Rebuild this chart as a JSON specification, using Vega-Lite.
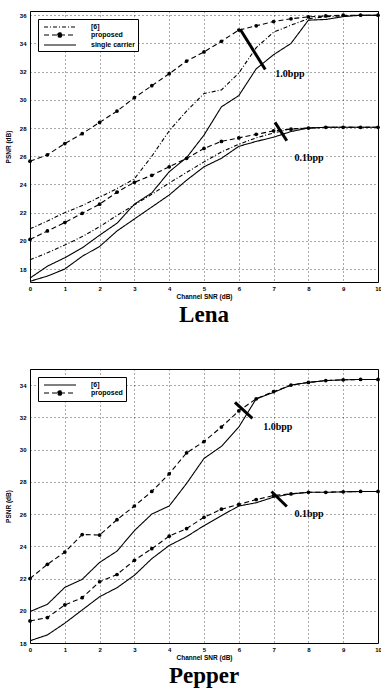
{
  "$schema": "https://vega.github.io/schema/vega-lite/v6.json",
  "padding": {"top": 10, "left": 4, "right": 2, "bottom": 0},
  "background": "white",
  "spacing": 41,
  "config": {
    "view": {"stroke": "black", "strokeWidth": 1},
    "axis": {
      "grid": true, "gridDash": [1, 3], "gridColor": "#000", "gridWidth": 0.8, "gridOpacity": 0.85,
      "domain": false, "ticks": false, "labelOverlap": false, "tickCount": 30, "format": "d",
      "labelFont": "Liberation Sans", "labelFontWeight": "bold", "labelFontSize": 6, "labelColor": "#000",
      "titleFont": "Liberation Sans", "titleFontWeight": "bold", "titleFontSize": 6.5, "titleColor": "#000"
    },
    "axisX": {"labelPadding": 3, "titlePadding": 2, "labelFlush": false},
    "axisY": {"labelPadding": 4, "titlePadding": 2, "minExtent": 17, "maxExtent": 17},
    "title": {"font": "Liberation Serif", "fontSize": 23, "fontWeight": "bold", "color": "#000", "orient": "bottom", "anchor": "middle", "offset": 4},
    "legend": {
      "orient": "top-left", "offset": 8, "strokeColor": "#000", "fillColor": "white", "padding": 3,
      "labelFont": "Liberation Sans", "labelFontWeight": "bold", "labelFontSize": 7, "labelColor": "#000",
      "symbolType": "M-4,0H4", "symbolSize": 64, "symbolOffset": 14, "labelOffset": 26,
      "symbolStrokeColor": "#000", "symbolStrokeWidth": 1.2, "rowPadding": 0
    }
  },
  "datasets": {
    "lena": [
      {"snr": 0, "psnr": 25.65, "method": "proposed", "rate": "1.0bpp"},
      {"snr": 0.5, "psnr": 26.1, "method": "proposed", "rate": "1.0bpp"},
      {"snr": 1, "psnr": 26.9, "method": "proposed", "rate": "1.0bpp"},
      {"snr": 1.5, "psnr": 27.6, "method": "proposed", "rate": "1.0bpp"},
      {"snr": 2, "psnr": 28.4, "method": "proposed", "rate": "1.0bpp"},
      {"snr": 2.5, "psnr": 29.2, "method": "proposed", "rate": "1.0bpp"},
      {"snr": 3, "psnr": 30.15, "method": "proposed", "rate": "1.0bpp"},
      {"snr": 3.5, "psnr": 31.0, "method": "proposed", "rate": "1.0bpp"},
      {"snr": 4, "psnr": 31.85, "method": "proposed", "rate": "1.0bpp"},
      {"snr": 4.5, "psnr": 32.75, "method": "proposed", "rate": "1.0bpp"},
      {"snr": 5, "psnr": 33.4, "method": "proposed", "rate": "1.0bpp"},
      {"snr": 5.5, "psnr": 34.15, "method": "proposed", "rate": "1.0bpp"},
      {"snr": 6, "psnr": 34.95, "method": "proposed", "rate": "1.0bpp"},
      {"snr": 6.5, "psnr": 35.25, "method": "proposed", "rate": "1.0bpp"},
      {"snr": 7, "psnr": 35.55, "method": "proposed", "rate": "1.0bpp"},
      {"snr": 7.5, "psnr": 35.75, "method": "proposed", "rate": "1.0bpp"},
      {"snr": 8, "psnr": 35.88, "method": "proposed", "rate": "1.0bpp"},
      {"snr": 8.5, "psnr": 35.95, "method": "proposed", "rate": "1.0bpp"},
      {"snr": 9, "psnr": 36.0, "method": "proposed", "rate": "1.0bpp"},
      {"snr": 9.5, "psnr": 36.0, "method": "proposed", "rate": "1.0bpp"},
      {"snr": 10, "psnr": 36.0, "method": "proposed", "rate": "1.0bpp"},
      {"snr": 0, "psnr": 20.1, "method": "proposed", "rate": "0.1bpp"},
      {"snr": 0.5, "psnr": 20.7, "method": "proposed", "rate": "0.1bpp"},
      {"snr": 1, "psnr": 21.3, "method": "proposed", "rate": "0.1bpp"},
      {"snr": 1.5, "psnr": 21.95, "method": "proposed", "rate": "0.1bpp"},
      {"snr": 2, "psnr": 22.6, "method": "proposed", "rate": "0.1bpp"},
      {"snr": 2.5, "psnr": 23.45, "method": "proposed", "rate": "0.1bpp"},
      {"snr": 3, "psnr": 24.15, "method": "proposed", "rate": "0.1bpp"},
      {"snr": 3.5, "psnr": 24.65, "method": "proposed", "rate": "0.1bpp"},
      {"snr": 4, "psnr": 25.25, "method": "proposed", "rate": "0.1bpp"},
      {"snr": 4.5, "psnr": 25.85, "method": "proposed", "rate": "0.1bpp"},
      {"snr": 5, "psnr": 26.55, "method": "proposed", "rate": "0.1bpp"},
      {"snr": 5.5, "psnr": 27.05, "method": "proposed", "rate": "0.1bpp"},
      {"snr": 6, "psnr": 27.3, "method": "proposed", "rate": "0.1bpp"},
      {"snr": 6.5, "psnr": 27.55, "method": "proposed", "rate": "0.1bpp"},
      {"snr": 7, "psnr": 27.8, "method": "proposed", "rate": "0.1bpp"},
      {"snr": 7.5, "psnr": 27.92, "method": "proposed", "rate": "0.1bpp"},
      {"snr": 8, "psnr": 28.0, "method": "proposed", "rate": "0.1bpp"},
      {"snr": 8.5, "psnr": 28.05, "method": "proposed", "rate": "0.1bpp"},
      {"snr": 9, "psnr": 28.05, "method": "proposed", "rate": "0.1bpp"},
      {"snr": 9.5, "psnr": 28.05, "method": "proposed", "rate": "0.1bpp"},
      {"snr": 10, "psnr": 28.05, "method": "proposed", "rate": "0.1bpp"},
      {"snr": 0, "psnr": 20.85, "method": "[6]", "rate": "1.0bpp"},
      {"snr": 0.5, "psnr": 21.4, "method": "[6]", "rate": "1.0bpp"},
      {"snr": 1, "psnr": 22.0, "method": "[6]", "rate": "1.0bpp"},
      {"snr": 1.5, "psnr": 22.5, "method": "[6]", "rate": "1.0bpp"},
      {"snr": 2, "psnr": 23.1, "method": "[6]", "rate": "1.0bpp"},
      {"snr": 2.5, "psnr": 23.7, "method": "[6]", "rate": "1.0bpp"},
      {"snr": 3, "psnr": 24.4, "method": "[6]", "rate": "1.0bpp"},
      {"snr": 3.5, "psnr": 26.0, "method": "[6]", "rate": "1.0bpp"},
      {"snr": 4, "psnr": 27.8, "method": "[6]", "rate": "1.0bpp"},
      {"snr": 4.5, "psnr": 29.2, "method": "[6]", "rate": "1.0bpp"},
      {"snr": 5, "psnr": 30.45, "method": "[6]", "rate": "1.0bpp"},
      {"snr": 5.5, "psnr": 30.7, "method": "[6]", "rate": "1.0bpp"},
      {"snr": 6, "psnr": 31.9, "method": "[6]", "rate": "1.0bpp"},
      {"snr": 6.5, "psnr": 33.7, "method": "[6]", "rate": "1.0bpp"},
      {"snr": 7, "psnr": 34.8, "method": "[6]", "rate": "1.0bpp"},
      {"snr": 7.5, "psnr": 35.3, "method": "[6]", "rate": "1.0bpp"},
      {"snr": 8, "psnr": 35.75, "method": "[6]", "rate": "1.0bpp"},
      {"snr": 8.5, "psnr": 35.9, "method": "[6]", "rate": "1.0bpp"},
      {"snr": 9, "psnr": 35.95, "method": "[6]", "rate": "1.0bpp"},
      {"snr": 9.5, "psnr": 36.0, "method": "[6]", "rate": "1.0bpp"},
      {"snr": 10, "psnr": 36.0, "method": "[6]", "rate": "1.0bpp"},
      {"snr": 0, "psnr": 18.65, "method": "[6]", "rate": "0.1bpp"},
      {"snr": 0.5, "psnr": 19.15, "method": "[6]", "rate": "0.1bpp"},
      {"snr": 1, "psnr": 19.7, "method": "[6]", "rate": "0.1bpp"},
      {"snr": 1.5, "psnr": 20.3, "method": "[6]", "rate": "0.1bpp"},
      {"snr": 2, "psnr": 21.0, "method": "[6]", "rate": "0.1bpp"},
      {"snr": 2.5, "psnr": 21.8, "method": "[6]", "rate": "0.1bpp"},
      {"snr": 3, "psnr": 22.55, "method": "[6]", "rate": "0.1bpp"},
      {"snr": 3.5, "psnr": 23.3, "method": "[6]", "rate": "0.1bpp"},
      {"snr": 4, "psnr": 24.1, "method": "[6]", "rate": "0.1bpp"},
      {"snr": 4.5, "psnr": 24.85, "method": "[6]", "rate": "0.1bpp"},
      {"snr": 5, "psnr": 25.6, "method": "[6]", "rate": "0.1bpp"},
      {"snr": 5.5, "psnr": 26.3, "method": "[6]", "rate": "0.1bpp"},
      {"snr": 6, "psnr": 26.85, "method": "[6]", "rate": "0.1bpp"},
      {"snr": 6.5, "psnr": 27.3, "method": "[6]", "rate": "0.1bpp"},
      {"snr": 7, "psnr": 27.65, "method": "[6]", "rate": "0.1bpp"},
      {"snr": 7.5, "psnr": 27.95, "method": "[6]", "rate": "0.1bpp"},
      {"snr": 8, "psnr": 28.0, "method": "[6]", "rate": "0.1bpp"},
      {"snr": 8.5, "psnr": 28.05, "method": "[6]", "rate": "0.1bpp"},
      {"snr": 9, "psnr": 28.05, "method": "[6]", "rate": "0.1bpp"},
      {"snr": 9.5, "psnr": 28.05, "method": "[6]", "rate": "0.1bpp"},
      {"snr": 10, "psnr": 28.05, "method": "[6]", "rate": "0.1bpp"},
      {"snr": 0, "psnr": 17.36, "method": "single carrier", "rate": "1.0bpp"},
      {"snr": 0.5, "psnr": 18.2, "method": "single carrier", "rate": "1.0bpp"},
      {"snr": 1, "psnr": 18.8, "method": "single carrier", "rate": "1.0bpp"},
      {"snr": 1.5, "psnr": 19.5, "method": "single carrier", "rate": "1.0bpp"},
      {"snr": 2, "psnr": 20.4, "method": "single carrier", "rate": "1.0bpp"},
      {"snr": 2.5, "psnr": 21.25, "method": "single carrier", "rate": "1.0bpp"},
      {"snr": 3, "psnr": 22.6, "method": "single carrier", "rate": "1.0bpp"},
      {"snr": 3.5, "psnr": 23.4, "method": "single carrier", "rate": "1.0bpp"},
      {"snr": 4, "psnr": 24.9, "method": "single carrier", "rate": "1.0bpp"},
      {"snr": 4.5, "psnr": 25.9, "method": "single carrier", "rate": "1.0bpp"},
      {"snr": 5, "psnr": 27.5, "method": "single carrier", "rate": "1.0bpp"},
      {"snr": 5.5, "psnr": 29.5, "method": "single carrier", "rate": "1.0bpp"},
      {"snr": 6, "psnr": 30.3, "method": "single carrier", "rate": "1.0bpp"},
      {"snr": 6.5, "psnr": 32.2, "method": "single carrier", "rate": "1.0bpp"},
      {"snr": 7, "psnr": 33.2, "method": "single carrier", "rate": "1.0bpp"},
      {"snr": 7.5, "psnr": 34.0, "method": "single carrier", "rate": "1.0bpp"},
      {"snr": 8, "psnr": 35.65, "method": "single carrier", "rate": "1.0bpp"},
      {"snr": 8.5, "psnr": 35.7, "method": "single carrier", "rate": "1.0bpp"},
      {"snr": 9, "psnr": 35.9, "method": "single carrier", "rate": "1.0bpp"},
      {"snr": 9.5, "psnr": 36.0, "method": "single carrier", "rate": "1.0bpp"},
      {"snr": 10, "psnr": 36.0, "method": "single carrier", "rate": "1.0bpp"},
      {"snr": 0, "psnr": 17.13, "method": "single carrier", "rate": "0.1bpp"},
      {"snr": 0.5, "psnr": 17.5, "method": "single carrier", "rate": "0.1bpp"},
      {"snr": 1, "psnr": 18.0, "method": "single carrier", "rate": "0.1bpp"},
      {"snr": 1.5, "psnr": 18.9, "method": "single carrier", "rate": "0.1bpp"},
      {"snr": 2, "psnr": 19.6, "method": "single carrier", "rate": "0.1bpp"},
      {"snr": 2.5, "psnr": 20.7, "method": "single carrier", "rate": "0.1bpp"},
      {"snr": 3, "psnr": 21.55, "method": "single carrier", "rate": "0.1bpp"},
      {"snr": 3.5, "psnr": 22.4, "method": "single carrier", "rate": "0.1bpp"},
      {"snr": 4, "psnr": 23.25, "method": "single carrier", "rate": "0.1bpp"},
      {"snr": 4.5, "psnr": 24.3, "method": "single carrier", "rate": "0.1bpp"},
      {"snr": 5, "psnr": 25.25, "method": "single carrier", "rate": "0.1bpp"},
      {"snr": 5.5, "psnr": 25.85, "method": "single carrier", "rate": "0.1bpp"},
      {"snr": 6, "psnr": 26.7, "method": "single carrier", "rate": "0.1bpp"},
      {"snr": 6.5, "psnr": 27.05, "method": "single carrier", "rate": "0.1bpp"},
      {"snr": 7, "psnr": 27.35, "method": "single carrier", "rate": "0.1bpp"},
      {"snr": 7.5, "psnr": 27.75, "method": "single carrier", "rate": "0.1bpp"},
      {"snr": 8, "psnr": 28.0, "method": "single carrier", "rate": "0.1bpp"},
      {"snr": 8.5, "psnr": 28.05, "method": "single carrier", "rate": "0.1bpp"},
      {"snr": 9, "psnr": 28.05, "method": "single carrier", "rate": "0.1bpp"},
      {"snr": 9.5, "psnr": 28.05, "method": "single carrier", "rate": "0.1bpp"},
      {"snr": 10, "psnr": 28.05, "method": "single carrier", "rate": "0.1bpp"}
    ],
    "pepper": [
      {"snr": 0, "psnr": 22.0, "method": "proposed", "rate": "1.0bpp"},
      {"snr": 0.5, "psnr": 22.88, "method": "proposed", "rate": "1.0bpp"},
      {"snr": 1, "psnr": 23.64, "method": "proposed", "rate": "1.0bpp"},
      {"snr": 1.5, "psnr": 24.73, "method": "proposed", "rate": "1.0bpp"},
      {"snr": 2, "psnr": 24.7, "method": "proposed", "rate": "1.0bpp"},
      {"snr": 2.5, "psnr": 25.65, "method": "proposed", "rate": "1.0bpp"},
      {"snr": 3, "psnr": 26.5, "method": "proposed", "rate": "1.0bpp"},
      {"snr": 3.5, "psnr": 27.4, "method": "proposed", "rate": "1.0bpp"},
      {"snr": 4, "psnr": 28.5, "method": "proposed", "rate": "1.0bpp"},
      {"snr": 4.5, "psnr": 29.8, "method": "proposed", "rate": "1.0bpp"},
      {"snr": 5, "psnr": 30.5, "method": "proposed", "rate": "1.0bpp"},
      {"snr": 5.5, "psnr": 31.4, "method": "proposed", "rate": "1.0bpp"},
      {"snr": 6, "psnr": 32.4, "method": "proposed", "rate": "1.0bpp"},
      {"snr": 6.5, "psnr": 33.15, "method": "proposed", "rate": "1.0bpp"},
      {"snr": 7, "psnr": 33.6, "method": "proposed", "rate": "1.0bpp"},
      {"snr": 7.5, "psnr": 34.0, "method": "proposed", "rate": "1.0bpp"},
      {"snr": 8, "psnr": 34.17, "method": "proposed", "rate": "1.0bpp"},
      {"snr": 8.5, "psnr": 34.28, "method": "proposed", "rate": "1.0bpp"},
      {"snr": 9, "psnr": 34.33, "method": "proposed", "rate": "1.0bpp"},
      {"snr": 9.5, "psnr": 34.35, "method": "proposed", "rate": "1.0bpp"},
      {"snr": 10, "psnr": 34.35, "method": "proposed", "rate": "1.0bpp"},
      {"snr": 0, "psnr": 19.37, "method": "proposed", "rate": "0.1bpp"},
      {"snr": 0.5, "psnr": 19.58, "method": "proposed", "rate": "0.1bpp"},
      {"snr": 1, "psnr": 20.36, "method": "proposed", "rate": "0.1bpp"},
      {"snr": 1.5, "psnr": 20.81, "method": "proposed", "rate": "0.1bpp"},
      {"snr": 2, "psnr": 21.8, "method": "proposed", "rate": "0.1bpp"},
      {"snr": 2.5, "psnr": 22.25, "method": "proposed", "rate": "0.1bpp"},
      {"snr": 3, "psnr": 23.13, "method": "proposed", "rate": "0.1bpp"},
      {"snr": 3.5, "psnr": 23.85, "method": "proposed", "rate": "0.1bpp"},
      {"snr": 4, "psnr": 24.63, "method": "proposed", "rate": "0.1bpp"},
      {"snr": 4.5, "psnr": 25.1, "method": "proposed", "rate": "0.1bpp"},
      {"snr": 5, "psnr": 25.8, "method": "proposed", "rate": "0.1bpp"},
      {"snr": 5.5, "psnr": 26.3, "method": "proposed", "rate": "0.1bpp"},
      {"snr": 6, "psnr": 26.6, "method": "proposed", "rate": "0.1bpp"},
      {"snr": 6.5, "psnr": 26.9, "method": "proposed", "rate": "0.1bpp"},
      {"snr": 7, "psnr": 27.15, "method": "proposed", "rate": "0.1bpp"},
      {"snr": 7.5, "psnr": 27.25, "method": "proposed", "rate": "0.1bpp"},
      {"snr": 8, "psnr": 27.35, "method": "proposed", "rate": "0.1bpp"},
      {"snr": 8.5, "psnr": 27.35, "method": "proposed", "rate": "0.1bpp"},
      {"snr": 9, "psnr": 27.38, "method": "proposed", "rate": "0.1bpp"},
      {"snr": 9.5, "psnr": 27.4, "method": "proposed", "rate": "0.1bpp"},
      {"snr": 10, "psnr": 27.4, "method": "proposed", "rate": "0.1bpp"},
      {"snr": 0, "psnr": 19.95, "method": "[6]", "rate": "1.0bpp"},
      {"snr": 0.5, "psnr": 20.4, "method": "[6]", "rate": "1.0bpp"},
      {"snr": 1, "psnr": 21.45, "method": "[6]", "rate": "1.0bpp"},
      {"snr": 1.5, "psnr": 21.95, "method": "[6]", "rate": "1.0bpp"},
      {"snr": 2, "psnr": 23.0, "method": "[6]", "rate": "1.0bpp"},
      {"snr": 2.5, "psnr": 23.7, "method": "[6]", "rate": "1.0bpp"},
      {"snr": 3, "psnr": 24.97, "method": "[6]", "rate": "1.0bpp"},
      {"snr": 3.5, "psnr": 26.0, "method": "[6]", "rate": "1.0bpp"},
      {"snr": 4, "psnr": 26.5, "method": "[6]", "rate": "1.0bpp"},
      {"snr": 4.5, "psnr": 27.9, "method": "[6]", "rate": "1.0bpp"},
      {"snr": 5, "psnr": 29.45, "method": "[6]", "rate": "1.0bpp"},
      {"snr": 5.5, "psnr": 30.2, "method": "[6]", "rate": "1.0bpp"},
      {"snr": 6, "psnr": 31.4, "method": "[6]", "rate": "1.0bpp"},
      {"snr": 6.5, "psnr": 33.15, "method": "[6]", "rate": "1.0bpp"},
      {"snr": 7, "psnr": 33.55, "method": "[6]", "rate": "1.0bpp"},
      {"snr": 7.5, "psnr": 34.0, "method": "[6]", "rate": "1.0bpp"},
      {"snr": 8, "psnr": 34.17, "method": "[6]", "rate": "1.0bpp"},
      {"snr": 8.5, "psnr": 34.28, "method": "[6]", "rate": "1.0bpp"},
      {"snr": 9, "psnr": 34.33, "method": "[6]", "rate": "1.0bpp"},
      {"snr": 9.5, "psnr": 34.35, "method": "[6]", "rate": "1.0bpp"},
      {"snr": 10, "psnr": 34.35, "method": "[6]", "rate": "1.0bpp"},
      {"snr": 0, "psnr": 18.14, "method": "[6]", "rate": "0.1bpp"},
      {"snr": 0.5, "psnr": 18.5, "method": "[6]", "rate": "0.1bpp"},
      {"snr": 1, "psnr": 19.23, "method": "[6]", "rate": "0.1bpp"},
      {"snr": 1.5, "psnr": 20.05, "method": "[6]", "rate": "0.1bpp"},
      {"snr": 2, "psnr": 20.87, "method": "[6]", "rate": "0.1bpp"},
      {"snr": 2.5, "psnr": 21.43, "method": "[6]", "rate": "0.1bpp"},
      {"snr": 3, "psnr": 22.2, "method": "[6]", "rate": "0.1bpp"},
      {"snr": 3.5, "psnr": 23.23, "method": "[6]", "rate": "0.1bpp"},
      {"snr": 4, "psnr": 24.05, "method": "[6]", "rate": "0.1bpp"},
      {"snr": 4.5, "psnr": 24.6, "method": "[6]", "rate": "0.1bpp"},
      {"snr": 5, "psnr": 25.28, "method": "[6]", "rate": "0.1bpp"},
      {"snr": 5.5, "psnr": 25.9, "method": "[6]", "rate": "0.1bpp"},
      {"snr": 6, "psnr": 26.5, "method": "[6]", "rate": "0.1bpp"},
      {"snr": 6.5, "psnr": 26.7, "method": "[6]", "rate": "0.1bpp"},
      {"snr": 7, "psnr": 27.05, "method": "[6]", "rate": "0.1bpp"},
      {"snr": 7.5, "psnr": 27.25, "method": "[6]", "rate": "0.1bpp"},
      {"snr": 8, "psnr": 27.35, "method": "[6]", "rate": "0.1bpp"},
      {"snr": 8.5, "psnr": 27.35, "method": "[6]", "rate": "0.1bpp"},
      {"snr": 9, "psnr": 27.38, "method": "[6]", "rate": "0.1bpp"},
      {"snr": 9.5, "psnr": 27.4, "method": "[6]", "rate": "0.1bpp"},
      {"snr": 10, "psnr": 27.4, "method": "[6]", "rate": "0.1bpp"}
    ],
    "lenaNotes": [
      {"x": 7.05, "y": 31.8, "label": "1.0bpp"},
      {"x": 7.6, "y": 25.9, "label": "0.1bpp"}
    ],
    "lenaMarks": [
      {"x": 6.04, "y": 35.0, "x2": 6.76, "y2": 32.15},
      {"x": 7.04, "y": 28.4, "x2": 7.38, "y2": 27.1}
    ],
    "pepperNotes": [
      {"x": 6.7, "y": 31.43, "label": "1.0bpp"},
      {"x": 7.6, "y": 26.0, "label": "0.1bpp"}
    ],
    "pepperMarks": [
      {"x": 5.89, "y": 32.93, "x2": 6.39, "y2": 31.94},
      {"x": 6.94, "y": 27.4, "x2": 7.38, "y2": 26.47}
    ]
  },
  "vconcat": [
    {
      "width": 348,
      "height": 271,
      "title": {"text": "Lena"},
      "layer": [
        {
          "data": {"name": "lena"},
          "mark": {"type": "line", "color": "#000", "strokeWidth": 1.1},
          "encoding": {
            "x": {"field": "snr", "type": "quantitative", "scale": {"domain": [0, 10], "nice": false}, "axis": {"values": [0,1,2,3,4,5,6,7,8,9,10], "tickCount": 30, "format": "d", "title": "Channel SNR (dB)"}},
            "y": {"field": "psnr", "type": "quantitative", "scale": {"domain": [17.08, 36.3], "nice": false, "zero": false}, "axis": {"values": [18,20,22,24,26,28,30,32,34,36], "tickCount": 30, "format": "d", "title": "PSNR (dB)"}},
            "strokeDash": {"field": "method", "type": "nominal", "sort": ["[6]", "proposed", "single carrier"],
              "scale": {"domain": ["[6]", "proposed", "single carrier"], "range": [[4, 2, 1, 2], [5, 3], [1, 0]]},
              "legend": {"title": null, "encode": {"symbols": {"update": {"shape": {"signal": "datum.value === 'proposed' ? 'M-4,0H4M-0.55,0A0.55,0.55 0 1 1 0.55,0A0.55,0.55 0 1 1 -0.55,0' : 'M-4,0H4'"}, "fill": {"value": "#000"}, "stroke": {"value": "#000"}, "strokeWidth": {"value": 1.2}, "opacity": {"value": 1}}}}}},
            "detail": {"field": "rate"}
          }
        },
        {
          "data": {"name": "lena"},
          "transform": [{"filter": "datum.method === 'proposed'"}],
          "mark": {"type": "point", "filled": true, "color": "#000", "size": 14, "opacity": 1},
          "encoding": {
            "x": {"field": "snr", "type": "quantitative"},
            "y": {"field": "psnr", "type": "quantitative"}
          }
        },
        {
          "data": {"name": "lenaMarks"},
          "mark": {"type": "rule", "color": "#000", "strokeWidth": 3},
          "encoding": {
            "x": {"field": "x", "type": "quantitative"},
            "y": {"field": "y", "type": "quantitative"},
            "x2": {"field": "x2"},
            "y2": {"field": "y2"}
          }
        },
        {
          "data": {"name": "lenaNotes"},
          "mark": {"type": "text", "font": "Liberation Serif", "fontSize": 10, "fontWeight": "bold", "align": "left", "baseline": "middle", "color": "#000"},
          "encoding": {
            "x": {"field": "x", "type": "quantitative"},
            "y": {"field": "y", "type": "quantitative"},
            "text": {"field": "label"}
          }
        }
      ]
    },
    {
      "width": 348,
      "height": 274,
      "title": {"text": "Pepper"},
      "layer": [
        {
          "data": {"name": "pepper"},
          "mark": {"type": "line", "color": "#000", "strokeWidth": 1.1},
          "encoding": {
            "x": {"field": "snr", "type": "quantitative", "scale": {"domain": [0, 10], "nice": false}, "axis": {"values": [0,1,2,3,4,5,6,7,8,9,10], "tickCount": 30, "format": "d", "title": "Channel SNR (dB)"}},
            "y": {"field": "psnr", "type": "quantitative", "scale": {"domain": [18, 35], "nice": false, "zero": false}, "axis": {"values": [18,20,22,24,26,28,30,32,34], "tickCount": 30, "format": "d", "title": "PSNR (dB)"}},
            "strokeDash": {"field": "method", "type": "nominal", "sort": ["[6]", "proposed"],
              "scale": {"domain": ["[6]", "proposed"], "range": [[1, 0], [5, 3]]},
              "legend": {"title": null, "encode": {"symbols": {"update": {"shape": {"signal": "datum.value === 'proposed' ? 'M-4,0H4M-0.55,0A0.55,0.55 0 1 1 0.55,0A0.55,0.55 0 1 1 -0.55,0' : 'M-4,0H4'"}, "fill": {"value": "#000"}, "stroke": {"value": "#000"}, "strokeWidth": {"value": 1.2}, "opacity": {"value": 1}}}}}},
            "detail": {"field": "rate"}
          }
        },
        {
          "data": {"name": "pepper"},
          "transform": [{"filter": "datum.method === 'proposed'"}],
          "mark": {"type": "point", "filled": true, "color": "#000", "size": 14, "opacity": 1},
          "encoding": {
            "x": {"field": "snr", "type": "quantitative"},
            "y": {"field": "psnr", "type": "quantitative"}
          }
        },
        {
          "data": {"name": "pepperMarks"},
          "mark": {"type": "rule", "color": "#000", "strokeWidth": 3},
          "encoding": {
            "x": {"field": "x", "type": "quantitative"},
            "y": {"field": "y", "type": "quantitative"},
            "x2": {"field": "x2"},
            "y2": {"field": "y2"}
          }
        },
        {
          "data": {"name": "pepperNotes"},
          "mark": {"type": "text", "font": "Liberation Serif", "fontSize": 10, "fontWeight": "bold", "align": "left", "baseline": "middle", "color": "#000"},
          "encoding": {
            "x": {"field": "x", "type": "quantitative"},
            "y": {"field": "y", "type": "quantitative"},
            "text": {"field": "label"}
          }
        }
      ]
    }
  ],
  "resolve": {"scale": {"strokeDash": "independent", "x": "independent", "y": "independent"}, "legend": {"strokeDash": "independent"}}
}
